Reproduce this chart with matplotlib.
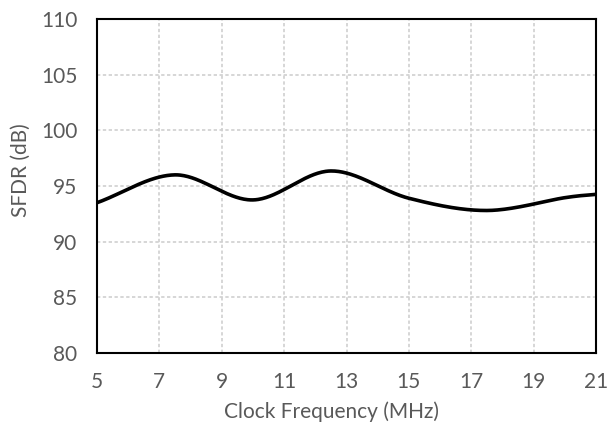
import numpy as np
import matplotlib.pyplot as plt

freq = [5, 7.5, 10, 12.5, 15, 17.5, 20, 21]
sfdr = [93.5, 96.0, 93.75, 96.35, 93.9, 92.8, 93.95, 94.25]


def smooth(x, y, n=60):
    # Catmull-Rom style smoothing, like a spreadsheet "smoothed line"
    x = np.asarray(x, float)
    y = np.asarray(y, float)
    px = np.concatenate([[2 * x[0] - x[1]], x, [2 * x[-1] - x[-2]]])
    py = np.concatenate([[2 * y[0] - y[1]], y, [2 * y[-1] - y[-2]]])
    xs, ys = [], []
    t = np.linspace(0, 1, n, endpoint=False)
    for i in range(1, len(px) - 2):
        for p, out in ((px, xs), (py, ys)):
            p0, p1, p2, p3 = p[i - 1], p[i], p[i + 1], p[i + 2]
            out.append(0.5 * (2 * p1 + (-p0 + p2) * t + (2 * p0 - 5 * p1 + 4 * p2 - p3) * t ** 2
                              + (-p0 + 3 * p1 - 3 * p2 + p3) * t ** 3))
    xs.append([x[-1]])
    ys.append([y[-1]])
    return np.concatenate(xs), np.concatenate(ys)


plt.rcParams['font.family'] = ['Lato', 'DejaVu Sans']
grey = '#595959'
W, H = 609, 434

fig = plt.figure(figsize=(W / 100, H / 100), dpi=100)
ax = fig.add_axes([97 / W, 1 - 353 / H, 499 / W, 334 / H])

sx, sy = smooth(freq, sfdr)
ax.plot(sx, sy, color='black', lw=2.6, zorder=3, solid_capstyle='butt')

ax.set_xlim(5, 21)
ax.set_ylim(80, 110)
ax.set_xticks(range(5, 22, 2))
ax.set_yticks(range(80, 111, 5))
ax.grid(True, color='#d0d0d0', lw=1.2, ls=(0, (2, 1.5)))
ax.tick_params(length=0, labelsize=15, colors=grey)
ax.tick_params(axis='x', pad=14)
ax.tick_params(axis='y', pad=14)
for s in ax.spines.values():
    s.set_color('black')
    s.set_linewidth(1.5)

# axis titles sit centred on the whole chart area, not the plot box
fig.text(331 / W, 1 - 412 / H, 'Clock Frequency (MHz)', fontsize=15, color=grey,
         ha='center', va='center')
fig.text(21 / W, 1 - 170 / H, 'SFDR (dB)', fontsize=15, color=grey,
         ha='center', va='center', rotation=90)

fig.savefig('out.png', dpi=100)
